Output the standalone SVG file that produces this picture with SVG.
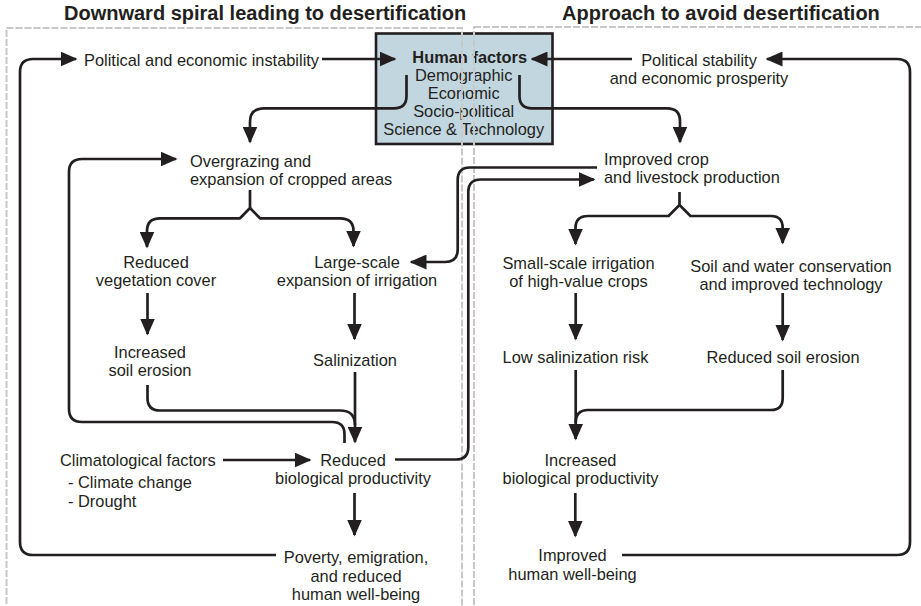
<svg xmlns="http://www.w3.org/2000/svg" width="921" height="606" viewBox="0 0 921 606">
<style>
text{font-family:"Liberation Sans",Arial,sans-serif;font-size:16.4px;fill:#231f20}
.t{font-size:20px;font-weight:bold}
.b{font-weight:bold}
.m{text-anchor:middle}
.panel{fill:none;stroke:#c8c8c8;stroke-width:2;stroke-dasharray:7 2}
.c{fill:none;stroke:#231f20;stroke-width:2.7;stroke-linejoin:round}
.a{marker-end:url(#ah)}
</style>
<defs>
<marker id="ah" markerUnits="userSpaceOnUse" markerWidth="17" markerHeight="15" viewBox="0 0 17 15" refX="15.5" refY="7.5" orient="auto">
<path d="M0,0 L17,7.5 L0,15 z" fill="#231f20"/>
</marker>
</defs>
<rect x="0" y="0" width="921" height="606" fill="#fff"/>
<g id="human-factors">
<rect x="376" y="33.5" width="176.5" height="110.5" fill="#c2d6e0" stroke="#231f20" stroke-width="2.6"/>
<text class="b m" x="469.7" y="63">Human factors</text>
<text class="m" x="463.7" y="81">Demographic</text>
<text class="m" x="463.7" y="99">Economic</text>
<text class="m" x="463.7" y="117">Socio-political</text>
<text class="m" x="463.7" y="135">Science &amp; Technology</text>
</g>
<g id="panels">
<rect class="panel" x="6.5" y="28" width="455.5" height="620"/>
<rect class="panel" x="474" y="27" width="470" height="620"/>
<text class="t" x="64" y="20">Downward spiral leading to desertification</text>
<text class="t" x="562" y="20">Approach to avoid desertification</text>
</g>
<g id="connectors">
<path class="c a" d="M276,555 H33 Q20,555 20,542 V72 Q20,59 33,59 H76"/>
<path class="c a" d="M322,59 H395"/>
<path class="c a" d="M632,59 H532"/>
<path class="c a" d="M622,555 H897 Q910,555 910,542 V72 Q910,59 897,59 H767"/>
<path class="c a" d="M406.5,75 V96 Q406.5,108.3 394,108.3 H264 Q250,108.3 250,122 V142"/>
<path class="c a" d="M519.5,75 V96 Q519.5,108.3 532,108.3 H667 Q680,108.3 680,121 V142"/>
<path class="c a" d="M250,190 V208 L240,218.3 H160 Q147,218.3 147,231 V247"/>
<path class="c a" d="M250,208 L260,218.3 H340 Q353.5,218.3 353.5,231 V246"/>
<path class="c a" d="M679.5,192 V205 L668.5,216 H588 Q575.5,216 575.5,228 V244"/>
<path class="c a" d="M679.5,205 L690.5,216 H771 Q782.7,216 782.7,228 V243"/>
<path class="c a" d="M147.5,293 V334"/>
<path class="c a" d="M354.5,293 V339"/>
<path class="c a" d="M575.7,293 V339"/>
<path class="c a" d="M782.7,293 V340"/>
<path class="c a" d="M355,372 V442"/>
<path class="c" d="M147.5,385 V398 Q147.5,410.5 160,410.5 H340 Q355,410.5 355,425"/>
<path class="c a" d="M344.5,443 V434 Q344.5,422 332,422 H82 Q69,422 69,409 V172 Q69,159 82,159 H176"/>
<path class="c a" d="M223,460 H310"/>
<path class="c a" d="M354.5,493 V535"/>
<path class="c a" d="M395,459.5 H456 Q468.3,459.5 468.3,447 V192 Q468.3,179.5 481,179.5 H594"/>
<path class="c a" d="M597,167.5 H470 Q457.7,167.5 457.7,180 V249.5 Q457.7,262 445,262 H411"/>
<path class="c a" d="M575.7,370 V439"/>
<path class="c" d="M782.7,370 V398 Q782.7,410 771,410 H588 Q575.7,410 575.7,423"/>
<path class="c a" d="M575.3,493 V536"/>
</g>
<g id="political-instability"><text x="84" y="65.5">Political and economic instability</text></g>
<g id="political-stability">
<text class="m" x="699" y="65.5">Political stability</text>
<text class="m" x="699" y="83.5">and economic prosperity</text>
</g>
<g id="overgrazing">
<text x="190" y="166.5">Overgrazing and</text>
<text x="190" y="184.5">expansion of cropped areas</text>
</g>
<g id="improved-crop">
<text x="604" y="165">Improved crop</text>
<text x="604" y="183">and livestock production</text>
</g>
<g id="reduced-vegetation">
<text class="m" x="156" y="267.5">Reduced</text>
<text class="m" x="156" y="285.5">vegetation cover</text>
</g>
<g id="large-scale-irrigation">
<text class="m" x="357" y="267.5">Large-scale</text>
<text class="m" x="357" y="285.5">expansion of irrigation</text>
</g>
<g id="small-scale-irrigation">
<text class="m" x="578.5" y="268.5">Small-scale irrigation</text>
<text class="m" x="578.5" y="286.5">of high-value crops</text>
</g>
<g id="soil-water-conservation">
<text class="m" x="791" y="271.5">Soil and water conservation</text>
<text class="m" x="791" y="289.5">and improved technology</text>
</g>
<g id="increased-erosion">
<text class="m" x="150" y="357.5">Increased</text>
<text class="m" x="150" y="375.5">soil erosion</text>
</g>
<g id="salinization"><text class="m" x="355" y="365.5">Salinization</text></g>
<g id="low-salinization"><text class="m" x="575.5" y="362.5">Low salinization risk</text></g>
<g id="reduced-erosion"><text class="m" x="783" y="362.5">Reduced soil erosion</text></g>
<g id="climatological">
<text x="60" y="466">Climatological factors</text>
<text x="68" y="488">- Climate change</text>
<text x="68" y="506.5">- Drought</text>
</g>
<g id="reduced-productivity">
<text class="m" x="353" y="466">Reduced</text>
<text class="m" x="353" y="484">biological productivity</text>
</g>
<g id="poverty">
<text class="m" x="356" y="563">Poverty, emigration,</text>
<text class="m" x="356" y="581.5">and reduced</text>
<text class="m" x="356" y="600">human well-being</text>
</g>
<g id="increased-productivity">
<text class="m" x="580.5" y="466">Increased</text>
<text class="m" x="580.5" y="484">biological productivity</text>
</g>
<g id="improved-wellbeing">
<text class="m" x="572.5" y="561">Improved</text>
<text class="m" x="572.5" y="579.5">human well-being</text>
</g>
</svg>
